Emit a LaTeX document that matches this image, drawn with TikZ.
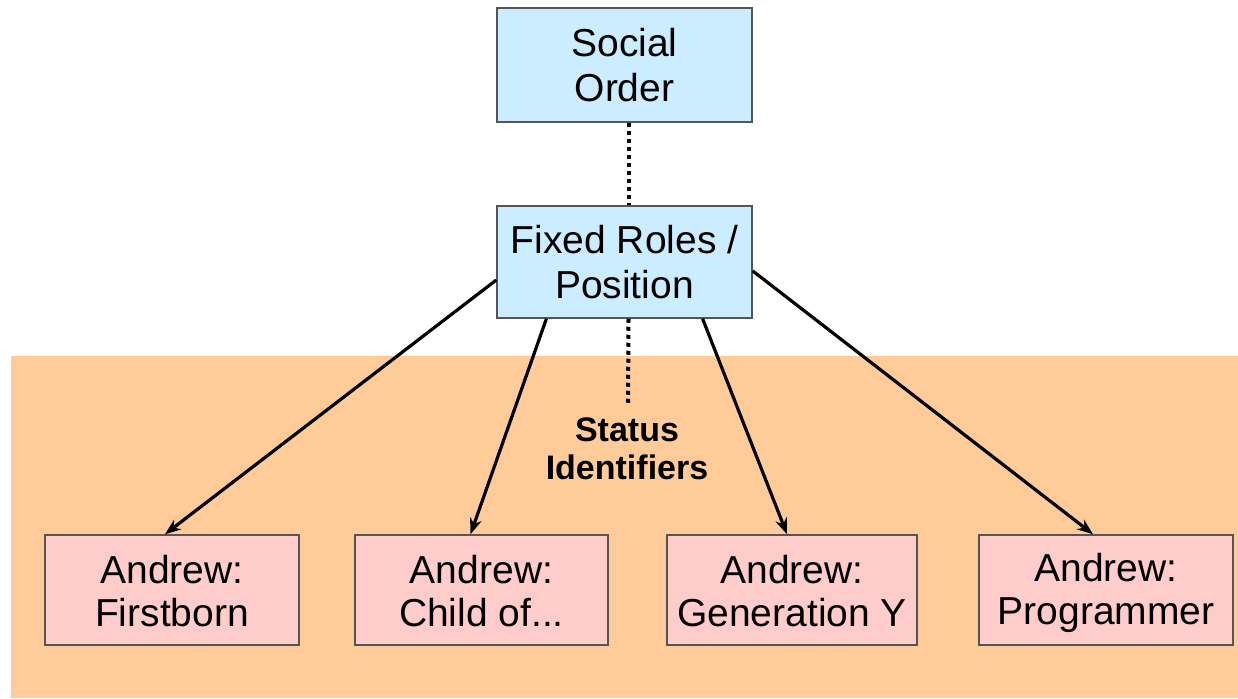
\documentclass[tikz,border=0pt]{standalone}
\usepackage{fontspec}
\setmainfont{Liberation Sans}
\usetikzlibrary{arrows.meta,calc}
\definecolor{boxblue}{RGB}{204,236,255}
\definecolor{boxpink}{RGB}{255,204,204}
\definecolor{bgorange}{RGB}{255,204,153}
\definecolor{edgegray}{RGB}{85,85,85}
\newcommand{\mystrut}{\rule[-6pt]{0pt}{41pt}}
\tikzset{
  bluebox/.style={draw=edgegray,line width=1.5pt,fill=boxblue,align=center,
    inner sep=0pt,font=\fontsize{39}{45}\selectfont},
  pinkbox/.style={draw=edgegray,line width=1.5pt,fill=boxpink,align=center,
    inner sep=0pt,minimum height=110pt,font=\fontsize{39}{43}\selectfont},
  arr/.style={line width=3.2pt,-{Stealth[length=16pt,width=12pt]}},
  dotline/.style={line width=4pt,dash pattern=on 4pt off 4pt}
}
\begin{document}
\begin{tikzpicture}[x=1pt,y=-1pt]
\useasboundingbox (0,0) rectangle (1238,698);
\fill[white] (0,0) rectangle (1238,698);
\fill[bgorange] (11,356) rectangle (1238,698);
\node[bluebox,minimum width=255pt,minimum height=114pt] (social) at (624.5,65) {Social\\Order};
\node[bluebox,minimum width=255pt,minimum height=112pt] (fixed) at (624.5,262) {Fixed Roles /\\Position};
\node[pinkbox,minimum width=254pt] (b1) at (172,590) {Andrew:\mystrut\\Firstborn\mystrut};
\node[pinkbox,minimum width=253pt] (b2) at (481.5,590) {Andrew:\mystrut\\Child of...\mystrut};
\node[pinkbox,minimum width=250pt] (b3) at (792,590) {Andrew:\mystrut\\Generation Y\mystrut};
\node[pinkbox,minimum width=254pt] (b4) at (1106,590) {Andrew:\mystrut\\Programmer\mystrut};
\node[align=center,font=\bfseries\fontsize{34}{38}\selectfont,inner sep=0pt] (status) at (627,449) {Status\\Identifiers};
\coordinate (dotend) at (628,404);
\draw[dotline] ($(social.south)+(4,0)$) -- ($(fixed.north)+(4,0)$);
\draw[dotline] ($(fixed.south)+(4,0)$) -- (dotend);
\draw[arr] (fixed.188) -- ($(b1.north)+(-7,0)$);
\draw[arr] (fixed.216) -- ($(b2.north)+(-11,0)$);
\draw[arr] (fixed.324.5) -- ($(b3.north)+(-5,0)$);
\draw[arr] (fixed.356) -- ($(b4.north)+(-13,0)$);
\end{tikzpicture}
\end{document}
